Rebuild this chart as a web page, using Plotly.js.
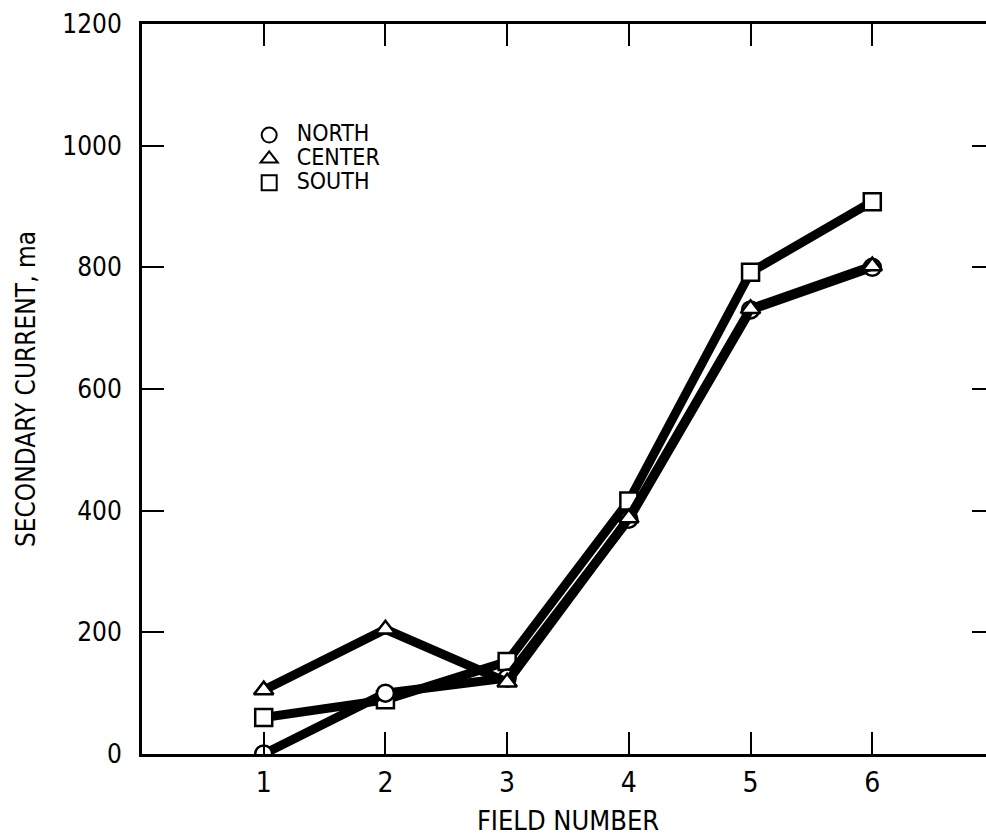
<!DOCTYPE html>
<html>
<head>
<meta charset="utf-8">
<script src="https://cdn.plot.ly/plotly-3.0.1.min.js"></script>
<style>
  html, body { margin: 0; padding: 0; overflow: hidden; background: #fff; }
  #chart { width: 1000px; height: 839px; }
</style>
</head>
<body>
<div id="chart"></div>
<script>
const fieldNumbers = [1, 2, 3, 4, 5, 6];
const northCurrent = [0, 100, 125, 386, 730, 800];
const centerCurrent = [105, 205, 118, 388, 732, 802];
const southCurrent = [60, 89, 152, 416, 792, 908];
const seriesNames = ['NORTH', 'CENTER', 'SOUTH'];
const xTickVals = [1, 2, 3, 4, 5, 6];
const yTickVals = [0, 200, 400, 600, 800, 1000, 1200];

const FONT = 'DejaVu Sans Condensed, DejaVu Sans, sans-serif';
const seriesValues = [northCurrent, centerCurrent, southCurrent];
const syms = ['circle', 'triangle-up', 'square'];

const traces = [];
// data traces: drawn South, North, Center
[2, 0, 1].forEach(i => {
  traces.push({
    x: fieldNumbers, y: seriesValues[i], type: 'scatter', mode: 'lines+markers',
    line: { color: '#000', width: 9 },
    marker: { symbol: syms[i], size: 17, color: '#fff', line: { color: '#000', width: 2.5 } },
    showlegend: false, hoverinfo: 'skip'
  });
});
// legend entries (markers only)
[0, 1, 2].forEach(i => {
  traces.push({
    x: [null], y: [null], type: 'scatter', mode: 'markers',
    name: '<span style="font-size:23px">' + seriesNames[i] + '</span>',
    marker: { symbol: syms[i], size: 15, color: '#fff', line: { color: '#000', width: 2 } },
    showlegend: true
  });
});

const layout = {
  width: 1000, height: 839,
  margin: { l: 142, r: 6, t: 24, b: 85 },
  paper_bgcolor: '#fff', plot_bgcolor: '#fff',
  font: { family: FONT, color: '#000', size: 24 },
  showlegend: true,
  legend: {
    x: 0.117, y: 0.871, xanchor: 'left', yanchor: 'top',
    bgcolor: 'rgba(0,0,0,0)', font: { family: FONT, size: 16, color: '#000' },
    tracegroupgap: 0, itemwidth: 45
  },
  xaxis: {
    range: [0, 7], tickvals: xTickVals, ticktext: xTickVals.map(String),
    ticks: 'inside', ticklen: 22, tickwidth: 2, tickcolor: '#000',
    showline: true, linewidth: 3, linecolor: '#000', mirror: 'ticks',
    showgrid: false, zeroline: false, ticklabelstandoff: 1,
    tickfont: { family: FONT, size: 28 },
    title: { text: 'FIELD NUMBER', font: { family: FONT, size: 27 }, standoff: 14 }
  },
  yaxis: {
    range: [0, 1200], tickvals: yTickVals, ticktext: yTickVals.map(String),
    ticks: 'inside', ticklen: 22, tickwidth: 2, tickcolor: '#000',
    showline: true, linewidth: 3, linecolor: '#000', mirror: 'ticks',
    showgrid: false, zeroline: false, ticklabelstandoff: 12,
    tickfont: { family: FONT, size: 26 },
    title: { text: 'SECONDARY CURRENT, ma', font: { family: FONT, size: 26 }, standoff: 20 }
  }
};

Plotly.newPlot('chart', traces, layout, { staticPlot: true, displayModeBar: false });
</script>
</body>
</html>
